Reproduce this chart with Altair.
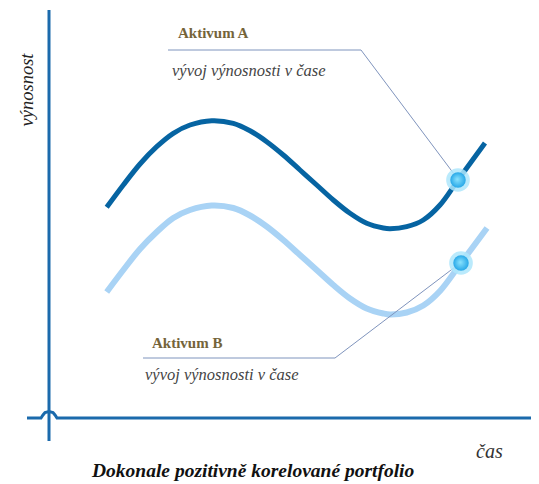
import altair as alt
import pandas as pd

# ---- data (picture coordinates: x right, y down) ----
time_a = [106.7, 123.3, 140, 156.7, 173.3, 190, 211.7, 233.3, 250, 266.7, 283.3, 300,
          316.7, 333.3, 350, 366.7, 383.3, 390, 406.7, 423.3, 440, 458, 485]
ret_a = [207.3, 185, 164, 146.7, 133.3, 125, 120.7, 123.3, 130.7, 141.7, 155, 170,
         185, 200, 213.3, 223.3, 228, 228.7, 226.7, 220, 205, 180, 143]

time_b = [106.7, 123.3, 140, 156.7, 173.3, 190, 211.7, 233.3, 250, 266.7, 283.3, 300,
          316.7, 333.3, 350, 366.7, 383.3, 390, 406.7, 423.3, 440, 461, 487]
ret_b = [292, 270, 249, 232, 218, 210, 205.5, 208, 215.5, 226.5, 240, 255,
         270, 285, 298.5, 308.5, 313.5, 314.5, 312.5, 305.5, 291, 263, 228]

marker_x = [458, 461]
marker_y = [180, 263]

conn_a_x = [168, 361, 457]
conn_a_y = [50, 50, 178]
conn_b_x = [143, 335, 455]
conn_b_y = [358, 358, 267]

vaxis_x = [49, 49]
vaxis_y = [10, 441]
haxis_x = [27, 41, 43, 45, 49, 53, 55, 57, 539]
haxis_y = [418, 418, 415, 412.5, 411.5, 412.5, 415, 418, 418]

label_titles = ["Aktivum A", "Aktivum B"]
label_title_x = [178, 152]
label_title_y = [33, 343]
label_subs = ["vývoj výnosnosti v čase", "vývoj výnosnosti v čase"]
label_sub_x = [172, 145]
label_sub_y = [71, 375]

x_title, x_title_pos = "čas", (476, 452)
y_title, y_title_pos = "výnosnost", (27, 90)
chart_title, chart_title_pos = "Dokonale pozitivně korelované portfolio", (92, 471)

# ---- scales: identity-like mapping of picture coordinates ----
W, H = 523, 476
xs = alt.Scale(domain=[8, 8 + W], nice=False, zero=False)
ys = alt.Scale(domain=[8, 8 + H], nice=False, zero=False, reverse=True)
X = lambda f: alt.X(f, type="quantitative", scale=xs, axis=None)
Y = lambda f: alt.Y(f, type="quantitative", scale=ys, axis=None)

SERIF = "'Liberation Serif', 'Times New Roman', serif"
AXIS_COL = "#1b6aac"

df_a = pd.DataFrame({"x": time_a, "y": ret_a})
df_b = pd.DataFrame({"x": time_b, "y": ret_b})
df_v = pd.DataFrame({"x": vaxis_x, "y": vaxis_y})
df_h = pd.DataFrame({"x": haxis_x, "y": haxis_y, "o": range(len(haxis_x))})
df_ca = pd.DataFrame({"x": conn_a_x, "y": conn_a_y, "o": [0, 1, 2]})
df_cb = pd.DataFrame({"x": conn_b_x, "y": conn_b_y, "o": [0, 1, 2]})
df_m = pd.DataFrame({"x": marker_x, "y": marker_y})
df_lt = pd.DataFrame({"x": label_title_x, "y": label_title_y, "t": label_titles})
df_ls = pd.DataFrame({"x": label_sub_x, "y": label_sub_y, "t": label_subs})
df_xt = pd.DataFrame({"x": [x_title_pos[0]], "y": [x_title_pos[1]], "t": [x_title]})
df_yt = pd.DataFrame({"x": [y_title_pos[0]], "y": [y_title_pos[1]], "t": [y_title]})
df_ct = pd.DataFrame({"x": [chart_title_pos[0]], "y": [chart_title_pos[1]], "t": [chart_title]})

vline = alt.Chart(df_v).mark_line(color=AXIS_COL, strokeWidth=3).encode(x=X("x"), y=Y("y"))
hline = alt.Chart(df_h).mark_line(color=AXIS_COL, strokeWidth=3).encode(x=X("x"), y=Y("y"), order="o:Q")

line_b = alt.Chart(df_b).mark_line(color="#a9d3f5", strokeWidth=6, interpolate="catmull-rom", strokeCap="butt").encode(x=X("x"), y=Y("y"))
line_a = alt.Chart(df_a).mark_line(color="#0664a2", strokeWidth=5, interpolate="catmull-rom", strokeCap="butt").encode(x=X("x"), y=Y("y"))

conn_a = alt.Chart(df_ca).mark_line(color="#7f94bd", strokeWidth=1).encode(x=X("x"), y=Y("y"), order="o:Q")
conn_b = alt.Chart(df_cb).mark_line(color="#7f94bd", strokeWidth=1).encode(x=X("x"), y=Y("y"), order="o:Q")

halo = alt.Chart(df_m).mark_point(shape="circle", filled=True, size=560, color="#aee6fb", opacity=0.85).encode(x=X("x"), y=Y("y"))
inner = alt.Chart(df_m).mark_point(
    shape="circle", filled=True, size=240, opacity=1,
    color={"gradient": "radial",
           "stops": [{"offset": 0, "color": "#8ae2fd"}, {"offset": 1, "color": "#28a8e8"}],
           "x1": 0.45, "y1": 0.45, "r1": 0, "x2": 0.5, "y2": 0.5, "r2": 0.5},
).encode(x=X("x"), y=Y("y"))

t_lab = alt.Chart(df_lt).mark_text(font=SERIF, fontSize=15, fontWeight="bold", color="#75643a", align="left", baseline="middle").encode(x=X("x"), y=Y("y"), text="t")
t_sub = alt.Chart(df_ls).mark_text(font=SERIF, fontSize=16.5, fontStyle="italic", color="#444444", align="left", baseline="middle").encode(x=X("x"), y=Y("y"), text="t")
t_x = alt.Chart(df_xt).mark_text(font=SERIF, fontSize=20, fontStyle="italic", color="#333333", align="left", baseline="middle").encode(x=X("x"), y=Y("y"), text="t")
t_y = alt.Chart(df_yt).mark_text(font=SERIF, fontSize=18.5, fontStyle="italic", color="#222222", align="center", baseline="middle", angle=270).encode(x=X("x"), y=Y("y"), text="t")
t_c = alt.Chart(df_ct).mark_text(font=SERIF, fontSize=19.5, fontStyle="italic", fontWeight="bold", color="#111111", align="left", baseline="middle").encode(x=X("x"), y=Y("y"), text="t")

chart = alt.layer(
    vline, hline, line_b, line_a, conn_a, conn_b, halo, inner,
    t_lab, t_sub, t_x, t_y, t_c,
).properties(
    width=W, height=H, padding=0,
    autosize=alt.AutoSizeParams(type="none"),
).configure_view(stroke=None)

chart.save("out.html", embed_options={"renderer": "svg", "actions": False})
